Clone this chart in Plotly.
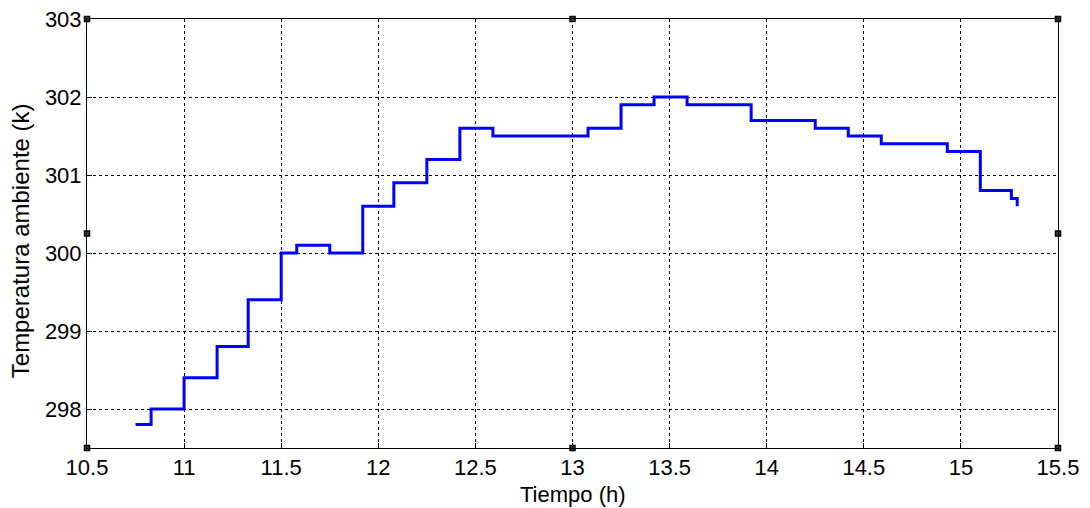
import plotly.graph_objects as go

# Step data: temperature holds from each time until the next
tiempo_h = [10.75, 10.83, 11.0, 11.17, 11.33, 11.5, 11.58, 11.75, 11.92, 12.08,
            12.25, 12.42, 12.59, 13.08, 13.25, 13.42, 13.59, 13.92, 14.25, 14.42,
            14.59, 14.93, 15.10, 15.26, 15.29]
temperatura_k = [297.8, 298.0, 298.4, 298.8, 299.4, 300.0, 300.1, 300.0, 300.6, 300.9,
                 301.2, 301.6, 301.5, 301.6, 301.9, 302.0, 301.9, 301.7, 301.6, 301.5,
                 301.4, 301.3, 300.8, 300.7, 300.6]

x_range = [10.5, 15.5]
y_range = [297.5, 303]
x_ticks = [10.5, 11, 11.5, 12, 12.5, 13, 13.5, 14, 14.5, 15, 15.5]
x_ticklabels = ["10.5", "11", "11.5", "12", "12.5", "13", "13.5", "14", "14.5", "15", "15.5"]
y_ticks = [298, 299, 300, 301, 302, 303]
y_ticklabels = ["298", "299", "300", "301", "302", "303"]
x_title = "Tiempo (h)"
y_title = "Temperatura ambiente (k)"

FONT = "Liberation Sans, Arial, sans-serif"

fig = go.Figure()
fig.add_trace(go.Scatter(
    x=tiempo_h, y=temperatura_k, mode="lines", line_shape="hv",
    line=dict(color="#0000FF", width=3), showlegend=False, hoverinfo="x+y"))

# MATLAB-style selection handles at the axes corners / midpoints
xm = (x_range[0] + x_range[1]) / 2
ym = (y_range[0] + y_range[1]) / 2
hx = [x_range[0], xm, x_range[1], x_range[0], x_range[1], x_range[0], xm, x_range[1]]
hy = [y_range[1], y_range[1], y_range[1], ym, ym, y_range[0], y_range[0], y_range[0]]
fig.add_trace(go.Scatter(
    x=hx, y=hy, mode="markers", cliponaxis=False, showlegend=False, hoverinfo="skip",
    marker=dict(symbol="square", size=5, color="#444444", line=dict(color="black", width=1.5))))

axis_common = dict(
    showline=True, linecolor="black", linewidth=1, mirror=True,
    ticks="inside", ticklen=5, tickcolor="black",
    showgrid=True, gridcolor="black", griddash="dot", gridwidth=1,
    zeroline=False, automargin=False, ticklabeloverflow="allow",
    tickfont=dict(family=FONT, size=22, color="black"),
)

fig.update_xaxes(range=x_range, tickvals=x_ticks, ticktext=x_ticklabels, **axis_common)
fig.update_yaxes(range=y_range, tickvals=y_ticks, ticktext=y_ticklabels, **axis_common)

fig.add_annotation(text=x_title, xref="paper", yref="paper", x=0.5, y=0,
                   xanchor="center", yanchor="middle", yshift=-46, showarrow=False,
                   font=dict(family=FONT, size=22, color="black"))
fig.add_annotation(text=y_title, xref="paper", yref="paper", x=0, y=0.482,
                   xanchor="center", yanchor="middle", xshift=-67, textangle=-90,
                   showarrow=False, font=dict(family=FONT, size=24, color="black"))

# page body adds an 8px offset, so the figure is sized to fit the visible window
fig.update_layout(
    width=1082, height=500,
    margin=dict(l=79, r=32, t=11, b=60),
    plot_bgcolor="white", paper_bgcolor="white",
)

fig.write_html("out.html")
